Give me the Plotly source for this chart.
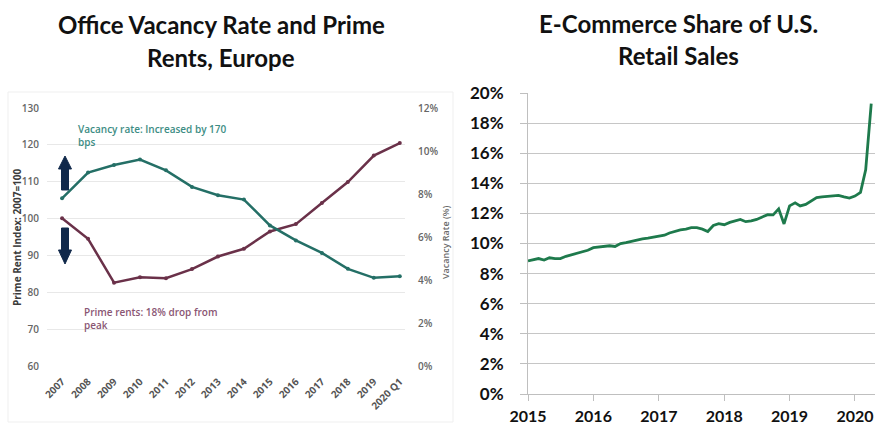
import plotly.graph_objects as go
import pandas as pd

W, H = 879, 427

# ---------------- data ----------------
years = ["2007", "2008", "2009", "2010", "2011", "2012", "2013", "2014",
         "2015", "2016", "2017", "2018", "2019", "2020 Q1"]
prime_rent = [100.1, 94.5, 82.6, 84.1, 83.8, 86.3, 89.7, 91.8,
              96.5, 98.5, 104.2, 109.9, 117.1, 120.5]
vacancy_rate = [7.8, 9.0, 9.35, 9.6, 9.1, 8.33, 7.94, 7.74,
                6.54, 5.84, 5.26, 4.52, 4.1, 4.17]

ecom_months = pd.date_range("2015-01-01", periods=64, freq="MS")
ecom_share = [8.85, 8.95, 9.0, 8.9, 9.05, 9.0, 9.0, 9.15, 9.25, 9.35, 9.45, 9.55,
              9.72, 9.78, 9.8, 9.85, 9.8, 10.0, 10.06, 10.15, 10.25, 10.3, 10.35, 10.4,
              10.45, 10.55, 10.7, 10.82, 10.9, 10.95, 11.05, 11.05, 10.95, 10.8, 11.2, 11.32,
              11.25, 11.4, 11.5, 11.6, 11.45, 11.5, 11.6, 11.75, 11.92, 11.9, 12.3, 11.3,
              12.5, 12.7, 12.5, 12.6, 12.85, 13.05, 13.1, 13.12, 13.15, 13.2, 13.1, 13.02,
              13.15, 13.4, 14.9, 19.3]

left_title = ["Office Vacancy Rate and Prime", "Rents, Europe"]
right_title = ["E-Commerce Share of U.S.", "Retail Sales"]


def px(x):
    return x / W


def py(y):
    return 1 - y / H


TEAL = "#246f66"
MAROON = "#6a3149"
GREEN = "#1e7a4c"
small_font = dict(family="Open Sans", size=10, color="#666666", weight=600)
xtick_font = dict(family="Open Sans", size=10, color="#555555", weight=700)

fig = go.Figure()
fig.add_trace(go.Scatter(x=years, y=prime_rent, xaxis="x", yaxis="y",
                         mode="lines+markers", line=dict(color=MAROON, width=2.5),
                         marker=dict(size=4, color=MAROON), showlegend=False))
fig.add_trace(go.Scatter(x=years, y=vacancy_rate, xaxis="x", yaxis="y3",
                         mode="lines+markers", line=dict(color=TEAL, width=2.5),
                         marker=dict(size=4, color=TEAL), showlegend=False))
fig.add_trace(go.Scatter(x=ecom_months, y=ecom_share, xaxis="x2", yaxis="y2",
                         mode="lines", line=dict(color=GREEN, width=2.8),
                         showlegend=False))

annotations = []
# titles
for i, t in enumerate(left_title):
    annotations.append(dict(text=t, x=px(221), y=py(25 + i * 32), xref="paper", yref="paper",
                            showarrow=False, xanchor="center", yanchor="middle",
                            font=dict(family="Lato", size=24, color="#111111", weight="bold")))
for i, t in enumerate(right_title):
    annotations.append(dict(text=t, x=px(678), y=py(24 + i * 31), xref="paper", yref="paper",
                            showarrow=False, xanchor="center", yanchor="middle",
                            font=dict(family="Lato", size=24, color="#111111", weight="bold")))
# left chart notes
annotations.append(dict(text="Vacancy rate: Increased by 170<br>bps", x=px(76), y=py(135),
                        xref="paper", yref="paper", showarrow=False, xanchor="left",
                        yanchor="middle", align="left",
                        font=dict(family="Open Sans", size=10, color="#3d8d84", weight=600)))
annotations.append(dict(text="Prime rents: 18% drop from<br>peak", x=px(82), y=py(318),
                        xref="paper", yref="paper", showarrow=False, xanchor="left",
                        yanchor="middle", align="left",
                        font=dict(family="Open Sans", size=10, color="#8a5673", weight=600)))
# axis titles
annotations.append(dict(text="Prime Rent Index: 2007=100", x=px(17), y=py(237),
                        xref="paper", yref="paper", showarrow=False, textangle=-90,
                        xanchor="center", yanchor="middle",
                        font=dict(family="Open Sans", size=10, color="#3c3c3c", weight=700)))
annotations.append(dict(text="Vacancy Rate (%)", x=px(446), y=py(242),
                        xref="paper", yref="paper", showarrow=False, textangle=-90,
                        xanchor="center", yanchor="middle",
                        font=dict(family="Open Sans", size=9, color="#6a6a6a", weight=600)))


def path(points):
    s = "M " + " L ".join(f"{px(x):.5f},{py(y):.5f}" for x, y in points) + " Z"
    return s


shapes = [
    dict(type="rect", xref="paper", yref="paper", x0=px(8), x1=px(453), y0=py(422), y1=py(92),
         line=dict(color="#efefef", width=1), fillcolor="rgba(0,0,0,0)", layer="below"),
    dict(type="path", xref="paper", yref="paper",
         path=path([(65, 156), (71.5, 169), (68.5, 169), (68.5, 190), (61.5, 190),
                    (61.5, 169), (58.5, 169)]),
         fillcolor="#10284a", line=dict(color="#10284a", width=1)),
    dict(type="path", xref="paper", yref="paper",
         path=path([(61.5, 228), (68.5, 228), (68.5, 250), (71.5, 250), (65, 264),
                    (58.5, 250), (61.5, 250)]),
         fillcolor="#10284a", line=dict(color="#10284a", width=1)),
]

fig.update_layout(
    width=W, height=H,
    margin=dict(l=0, r=0, t=0, b=0, pad=0, autoexpand=False),
    paper_bgcolor="white", plot_bgcolor="white",
    showlegend=False,
    annotations=annotations,
    shapes=shapes,
    xaxis=dict(domain=[px(47), px(405)], anchor="y", type="category",
               range=[-0.58, 13.2], tickangle=-45, showgrid=False, showline=False,
               zeroline=False, ticks="outside", ticklen=5, tickcolor="rgba(0,0,0,0)",
               tickfont=xtick_font, automargin=False),
    yaxis=dict(domain=[py(366), py(108)], anchor="x", range=[60, 130], dtick=10,
               gridcolor="#e8e8e8", showline=False, zeroline=False,
               ticks="outside", ticklen=5, tickcolor="rgba(0,0,0,0)",
               tickfont=small_font, automargin=False),
    yaxis3=dict(overlaying="y", side="right", anchor="x", range=[0, 12], dtick=2,
                ticksuffix="%", showgrid=False, zeroline=False, showline=False,
                ticks="outside", ticklen=10, tickcolor="rgba(0,0,0,0)",
                tickfont=small_font, automargin=False),
    xaxis2=dict(domain=[px(528), px(875)], anchor="y2", type="date",
                range=["2015-01-01", "2020-04-22"], dtick="M12", tick0="2015-01-01",
                tickformat="%Y", showline=True, linecolor="#bfbfbf", linewidth=1,
                ticks="outside", ticklen=6, tickcolor="#bfbfbf", showgrid=False,
                zeroline=False, automargin=False, ticklabelstandoff=2,
                tickfont=dict(family="Lato", size=16, color="#111111", weight="bold")),
    yaxis2=dict(domain=[py(394), py(93)], anchor="x2", range=[0, 20], dtick=2,
                ticksuffix="%", showline=True, linecolor="#bfbfbf", linewidth=1,
                gridcolor="#c6c6c6", ticks="outside", ticklen=7, tickcolor="#bfbfbf",
                zeroline=False, ticklabelstandoff=13, automargin=False,
                tickfont=dict(family="Lato", size=17, color="#111111", weight="bold")),
)

fig.write_html("out.html")
